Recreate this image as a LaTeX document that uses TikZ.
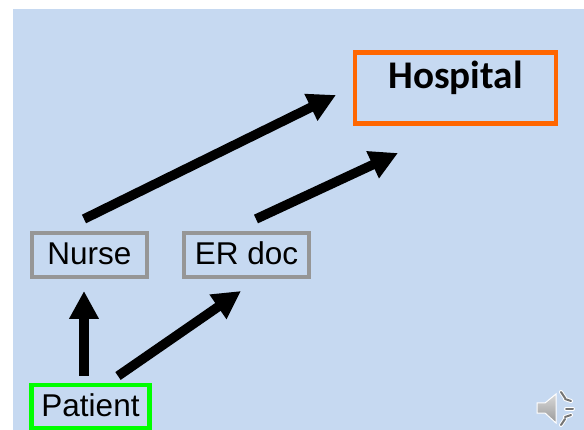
\documentclass[tikz,border=0pt]{standalone}
\usepackage{fontspec}
\setmainfont{Liberation Sans}
\newfontfamily\hospitalfont{Carlito}
\usetikzlibrary{arrows.meta}
\definecolor{slideblue}{HTML}{C6D9F1}
\definecolor{hospitalorange}{HTML}{FF6600}
\definecolor{boxgray}{HTML}{969696}
\definecolor{patientgreen}{HTML}{00FF00}
\begin{document}
\begin{tikzpicture}[x=1pt, y=-1pt,
	box/.style={draw, line width=4.7pt, inner sep=0pt, align=center, font=\fontsize{31.5}{31.5}\selectfont},
	flow/.style={line width=9.5pt, -{Triangle[width=28pt, length=28pt]}}]
	\useasboundingbox (0,0) rectangle (584,430);
	\fill[slideblue] (13,9) rectangle (584,430);

	\node[box, draw=hospitalorange, minimum width=201pt, text height=36pt, text depth=35.5pt, font=\hospitalfont\bfseries\fontsize{39.2}{39.2}\selectfont] (hospital) at (455.5,88) {Hospital};
	\node[box, draw=boxgray, minimum width=115pt, text height=32pt, text depth=12pt] (nurse) at (89.5,255) {Nurse};
	\node[box, draw=boxgray, minimum width=125pt, text height=32pt, text depth=12pt] (erdoc) at (246.5,255) {ER doc};
	\node[box, draw=patientgreen, minimum width=117.5pt, text height=32pt, text depth=11pt] (patient) at (90.5,406.5) {Patient};

	% arrows stop short of the boxes
	\coordinate (patientup) at (84,376);
	\coordinate (nursedown) at (84,291);
	\coordinate (patientright) at (118,376);
	\coordinate (erdocdown) at (241,291);
	\coordinate (nurseup) at (84,219);
	\coordinate (hospitalleft) at (336,95);
	\coordinate (erdocup) at (256,219);
	\coordinate (hospitaldown) at (398,153);
	\draw[flow] (patientup) -- (nursedown);
	\draw[flow] (patientright) -- (erdocdown);
	\draw[flow] (nurseup) -- (hospitalleft);
	\draw[flow] (erdocup) -- (hospitaldown);

	% speaker icon
	\shade[draw=white, line width=1pt, top color=gray!30, bottom color=gray!80] (537,403) -- (545,403) -- (556,394) -- (556,423) -- (545,413) -- (537,413) -- cycle;
	\foreach \a/\b/\c/\d in {561/392/565/398, 565/399/571/401, 566/409/573/409, 565/417/571/415, 561/425/565/419}
		\draw[white, line width=4pt, line cap=round] (\a,\b) -- (\c,\d);
	\foreach \a/\b/\c/\d in {561/392/565/398, 565/399/571/401, 566/409/573/409, 565/417/571/415, 561/425/565/419}
		\draw[black!55, line width=2pt, line cap=round] (\a,\b) -- (\c,\d);
\end{tikzpicture}
\end{document}
